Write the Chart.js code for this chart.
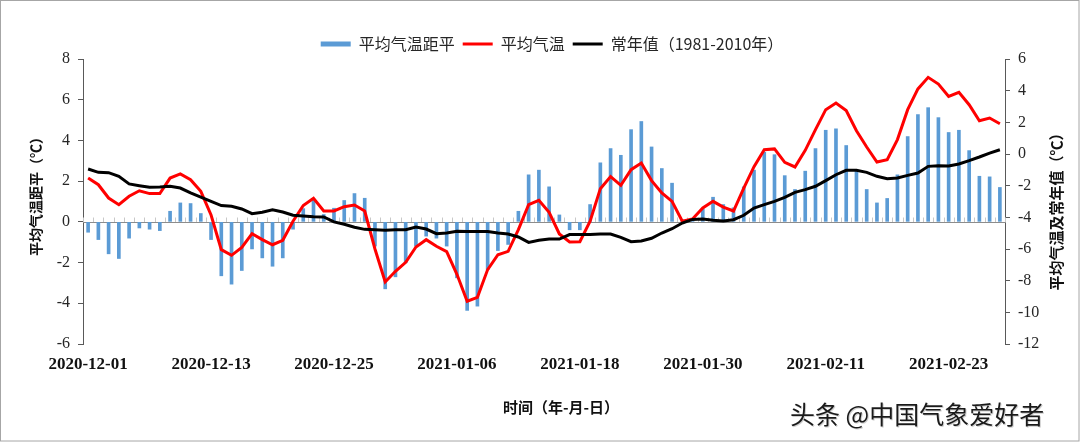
<!DOCTYPE html>
<html>
<head>
<meta charset="utf-8">
<script src="https://cdn.jsdelivr.net/npm/chart.js@4/dist/chart.umd.min.js"></script>
<style>
  html, body { margin: 0; padding: 0; background: #fff; }
  #wrap { width: 1080px; height: 443px; position: relative; }
</style>
</head>
<body>
<div id="wrap"><canvas id="c"></canvas></div>
<script>
const dates = [
  '2020-12-01','2020-12-02','2020-12-03','2020-12-04','2020-12-05','2020-12-06','2020-12-07','2020-12-08','2020-12-09','2020-12-10',
  '2020-12-11','2020-12-12','2020-12-13','2020-12-14','2020-12-15','2020-12-16','2020-12-17','2020-12-18','2020-12-19','2020-12-20',
  '2020-12-21','2020-12-22','2020-12-23','2020-12-24','2020-12-25','2020-12-26','2020-12-27','2020-12-28','2020-12-29','2020-12-30',
  '2020-12-31','2021-01-01','2021-01-02','2021-01-03','2021-01-04','2021-01-05','2021-01-06','2021-01-07','2021-01-08','2021-01-09',
  '2021-01-10','2021-01-11','2021-01-12','2021-01-13','2021-01-14','2021-01-15','2021-01-16','2021-01-17','2021-01-18','2021-01-19',
  '2021-01-20','2021-01-21','2021-01-22','2021-01-23','2021-01-24','2021-01-25','2021-01-26','2021-01-27','2021-01-28','2021-01-29',
  '2021-01-30','2021-01-31','2021-02-01','2021-02-02','2021-02-03','2021-02-04','2021-02-05','2021-02-06','2021-02-07','2021-02-08',
  '2021-02-09','2021-02-10','2021-02-11','2021-02-12','2021-02-13','2021-02-14','2021-02-15','2021-02-16','2021-02-17','2021-02-18',
  '2021-02-19','2021-02-20','2021-02-21','2021-02-22','2021-02-23','2021-02-24','2021-02-25','2021-02-26','2021-02-27','2021-02-28'
];
const labelEvery = 12;

// 平均气温距平 (left axis)
const anomaly = [
  -0.51,-0.87,-1.57,-1.80,-0.80,-0.30,-0.36,-0.43, 0.52, 0.93,
   0.90, 0.41,-0.87,-2.65,-3.06,-2.39,-1.33,-1.77,-2.18,-1.77,
  -0.36, 0.65, 1.06, 0.36, 0.67, 1.05, 1.39, 1.16,-1.19,-3.29,
  -2.70,-2.01,-1.19,-0.70,-0.80,-1.19,-2.75,-4.35,-4.14,-2.34,
  -1.41,-1.11, 0.52, 2.31, 2.54, 1.72, 0.34,-0.39,-0.39, 0.85,
   2.90, 3.60, 3.27, 4.53, 4.93, 3.68, 2.62, 1.90, 0.10, 0.03,
   0.64, 1.21, 0.85, 0.69, 1.72, 2.54, 3.42, 3.30, 2.27, 1.59,
   2.49, 3.60, 4.50, 4.57, 3.75, 2.49, 1.59, 0.93, 1.15, 2.31,
   4.19, 5.27, 5.61, 5.12, 4.39, 4.50, 3.50, 2.24, 2.21, 1.69
];

// 平均气温 (right axis)
const avgTemp = [
  -1.52,-1.94,-2.78,-3.20,-2.67,-2.32,-2.50,-2.50,-1.52,-1.26,
  -1.62,-2.36,-3.85,-6.04,-6.40,-5.90,-5.03,-5.41,-5.73,-5.45,
  -4.25,-3.25,-2.80,-3.60,-3.60,-3.33,-3.22,-3.60,-6.00,-8.08,
  -7.41,-6.84,-5.87,-5.41,-5.83,-6.17,-7.60,-9.30,-9.05,-7.30,
  -6.36,-6.15,-4.78,-3.20,-2.93,-3.68,-5.05,-5.56,-5.54,-4.25,
  -2.19,-1.43,-1.98,-0.99,-0.57,-1.68,-2.46,-2.99,-4.25,-4.10,
  -3.41,-2.99,-3.35,-3.60,-2.15,-0.80, 0.27, 0.32,-0.53,-0.82,
   0.23, 1.54, 2.80, 3.22, 2.74, 1.47, 0.44,-0.51,-0.36, 0.91,
   2.80, 4.11, 4.84, 4.42, 3.64, 3.89, 3.11, 2.10, 2.27, 1.91
];

// 常年值（1981-2010年） (right axis)
const normal = [
  -0.95,-1.16,-1.18,-1.41,-1.89,-2.00,-2.10,-2.08,-2.04,-2.15,
  -2.46,-2.72,-2.99,-3.26,-3.30,-3.47,-3.77,-3.68,-3.52,-3.66,
  -3.87,-3.92,-3.96,-3.98,-4.29,-4.44,-4.63,-4.76,-4.78,-4.82,
  -4.78,-4.78,-4.61,-4.74,-5.03,-4.99,-4.88,-4.90,-4.90,-4.90,
  -4.99,-5.05,-5.24,-5.58,-5.45,-5.37,-5.37,-5.09,-5.09,-5.09,
  -5.05,-5.05,-5.26,-5.54,-5.49,-5.32,-4.99,-4.72,-4.36,-4.13,
  -4.11,-4.19,-4.23,-4.15,-3.87,-3.41,-3.20,-2.99,-2.74,-2.42,
  -2.25,-2.04,-1.68,-1.31,-1.03,-1.03,-1.16,-1.41,-1.56,-1.52,
  -1.35,-1.20,-0.78,-0.74,-0.76,-0.63,-0.42,-0.19, 0.06, 0.27
];

const seriesNames = ['平均气温距平', '平均气温', '常年值（1981-2010年）'];
const leftRange = [-6, 8];
const rightRange = [-12, 6];
const tickStep = 2;
const xTitle = '时间（年-月-日）';
const yLeftTitle = '平均气温距平（℃）';
const yRightTitle = '平均气温及常年值（℃）';
const watermark = '头条 @中国气象爱好者';

const serif = "'Liberation Serif', 'Times New Roman', serif";
const cjk = "'Noto Sans CJK SC', 'Noto Sans', sans-serif";

const decor = {
  id: 'decor',
  afterLayout(chart) {
    const lg = chart.legend;
    if (lg) { lg.left += 12; lg.right += 12; lg.top += 3; lg.bottom += 3; }
  },
  beforeDatasetsDraw(chart) {
    const { ctx, chartArea, scales } = chart;
    const x = scales.x, y = scales.y;
    const y0 = Math.round(y.getPixelForValue(0)) + 0.5;
    const half = (x.getPixelForValue(1) - x.getPixelForValue(0)) / 2;
    ctx.save();
    ctx.lineWidth = 1;
    ctx.strokeStyle = '#c8c8c8';
    ctx.beginPath();
    for (let i = 0; i <= dates.length; i++) {
      const px = Math.round(x.getPixelForValue(i) - half) + 0.5;
      ctx.moveTo(px, y0);
      ctx.lineTo(px, y0 - 5);
    }
    ctx.stroke();
    ctx.strokeStyle = '#8c8c8c';
    ctx.beginPath();
    ctx.moveTo(chartArea.left, y0);
    ctx.lineTo(chartArea.right, y0);
    ctx.stroke();
    ctx.restore();
  },
  afterDraw(chart) {
    const { ctx } = chart;
    ctx.save();
    ctx.fillStyle = '#111';
    ctx.textAlign = 'center';
    ctx.textBaseline = 'middle';
    // x title
    ctx.font = "bold 15px " + cjk;
    ctx.fillText(xTitle, 561, 407);
    // left y title
    ctx.save();
    ctx.translate(36, 193);
    ctx.rotate(-Math.PI / 2);
    ctx.font = "bold 14px " + cjk;
    ctx.fillText(yLeftTitle, 0, 0);
    ctx.restore();
    // right y title (reads bottom-to-top)
    ctx.save();
    ctx.translate(1056, 208);
    ctx.rotate(-Math.PI / 2);
    ctx.font = "bold 15px " + cjk;
    ctx.fillText(yRightTitle, 0, 0);
    ctx.restore();
    // watermark
    ctx.textAlign = 'left';
    ctx.font = "25px " + cjk;
    ctx.fillStyle = '#d0d0d0';
    ctx.fillText(watermark, 791, 415);
    ctx.fillStyle = '#1a1a1a';
    ctx.fillText(watermark, 790, 414);
    // outer frame
    ctx.strokeStyle = '#a6a6a6';
    ctx.lineWidth = 1;
    ctx.strokeRect(0.5, 0.5, 1078.5, 440.5);
    ctx.restore();
  }
};

new Chart(document.getElementById('c'), {
  data: {
    labels: dates,
    datasets: [
      {
        type: 'bar',
        label: seriesNames[0],
        data: anomaly,
        yAxisID: 'y',
        backgroundColor: '#5b9bd5',
        borderWidth: 0,
        barThickness: 3,
        pointStyle: 'rect',
        order: 2
      },
      {
        type: 'line',
        label: seriesNames[1],
        data: avgTemp,
        yAxisID: 'y1',
        borderColor: '#ff0000',
        backgroundColor: '#ff0000',
        borderWidth: 3,
        pointRadius: 0,
        pointHoverRadius: 0,
        tension: 0,
        pointStyle: 'line',
        order: 1
      },
      {
        type: 'line',
        label: seriesNames[2],
        data: normal,
        yAxisID: 'y1',
        borderColor: '#000000',
        backgroundColor: '#000000',
        borderWidth: 3,
        pointRadius: 0,
        pointHoverRadius: 0,
        tension: 0,
        pointStyle: 'line',
        order: 0
      }
    ]
  },
  options: {
    responsive: true,
    maintainAspectRatio: false,
    devicePixelRatio: 1,
    animation: false,
    events: [],
    layout: { padding: { top: 25, left: 0, right: 0, bottom: 0 } },
    plugins: {
      tooltip: { enabled: false },
      legend: {
        display: true,
        position: 'top',
        labels: {
          usePointStyle: true,
          pointStyleWidth: 30,
          boxHeight: 5,
          padding: 8,
          color: '#262626',
          font: { family: cjk, size: 16 },
          sort: (a, b) => a.datasetIndex - b.datasetIndex
        }
      }
    },
    scales: {
      x: {
        type: 'category',
        grid: { display: false, drawTicks: false },
        border: { display: false },
        afterFit: (s) => { s.height = 99; },
        ticks: {
          autoSkip: false,
          maxRotation: 0,
          minRotation: 0,
          padding: 10,
          color: '#111',
          font: { family: serif, size: 17, weight: 'bold' },
          callback: function (v, i) { return i % labelEvery === 0 ? dates[i] : ''; }
        }
      },
      y: {
        position: 'left',
        min: leftRange[0],
        max: leftRange[1],
        afterFit: (s) => { s.width = 83; },
        border: { display: true, color: '#595959', width: 1 },
        grid: { drawOnChartArea: false, drawTicks: true, tickLength: 5, color: '#595959' },
        ticks: { stepSize: tickStep, padding: 8, color: '#262626', font: { family: serif, size: 16 } }
      },
      y1: {
        position: 'right',
        min: rightRange[0],
        max: rightRange[1],
        afterFit: (s) => { s.width = 75; },
        border: { display: true, color: '#595959', width: 1 },
        grid: { drawOnChartArea: false, drawTicks: true, tickLength: 5, color: '#595959' },
        ticks: { stepSize: tickStep, padding: 8, color: '#262626', font: { family: serif, size: 16 } }
      }
    }
  },
  plugins: [decor]
});
</script>
</body>
</html>
